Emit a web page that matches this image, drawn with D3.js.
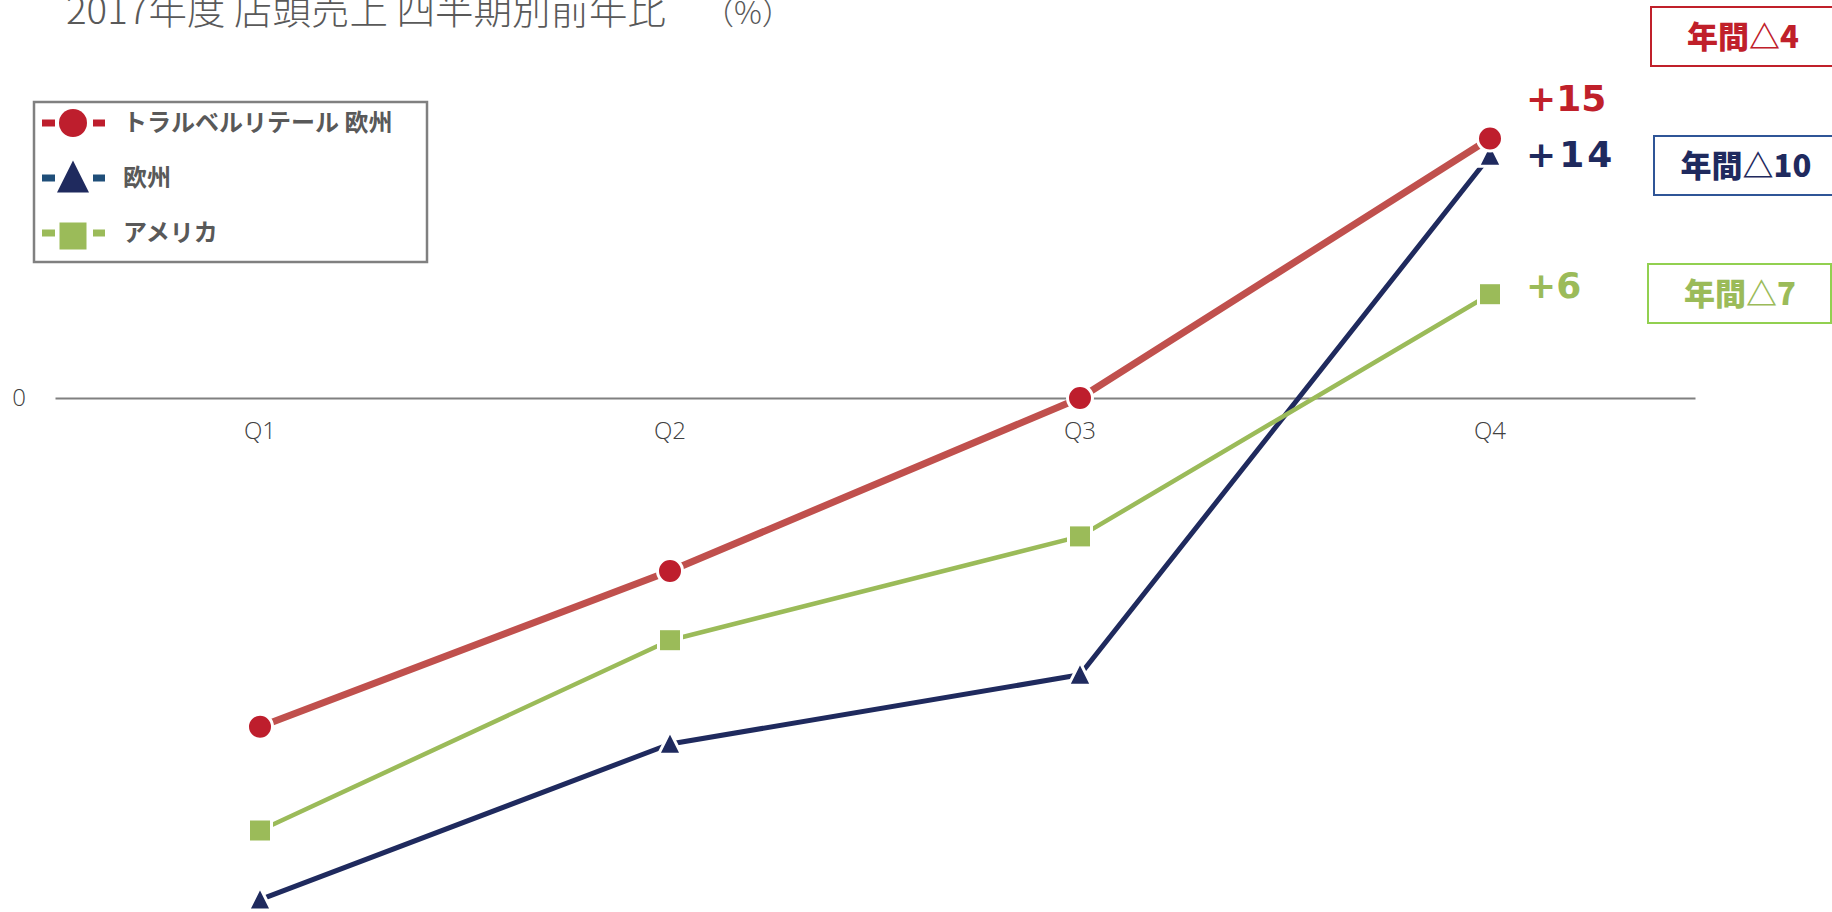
<!DOCTYPE html>
<html><head><meta charset="utf-8">
<script src="https://cdn.jsdelivr.net/npm/d3@7"></script>
<style>
html,body{margin:0;padding:0;background:#fff;overflow:hidden}
svg{display:block}
</style></head>
<body>
<svg id="chart" width="1832" height="912"></svg>
<script>
// ---- data ----
const quarters = ["Q1", "Q2", "Q3", "Q4"];
const seriesNames = ["トラルベルリテール 欧州", "欧州", "アメリカ"];
const travelRetailEU = [-19, -10, 0, 15];
const europe = [-29, -20, -16, 14];
const america = [-25, -14, -8, 6];
const endLabels = ["+15", "+14", "+6"];
const annualLabels = ["年間△4", "年間△10", "年間△7"];
const yTicks = [0];
const titleText = "2017年度 店頭売上 四半期別前年比";
const unitText = "（%）";

// ---- styles ----
const styles = [
  {name: seriesNames[0], values: travelRetailEU, line: "#C0504D", lineW: 7, marker: "#BE1E2D", legendDash: "#BE1E2D", shape: "circle",
   label: endLabels[0], labelColor: "#C0202A", labelDy: -28, labelLS: 0, box: annualLabels[0], boxStroke: "#C0202A", boxY: 7, boxX: 1651, boxW: 192, textColor: "#C0202A"},
  {name: seriesNames[1], values: europe, line: "#1F2A5E", lineW: 5, marker: "#1F2A5E", legendDash: "#1F4E79", shape: "triangle",
   label: endLabels[1], labelColor: "#1F2A5E", labelDy: 11, labelLS: 3, box: annualLabels[1], boxStroke: "#2F5597", boxY: 136, boxX: 1654, boxW: 192, textColor: "#1F2A5E"},
  {name: seriesNames[2], values: america, line: "#9BBB59", lineW: 4.5, marker: "#9BBB59", legendDash: "#9BBB59", shape: "square",
   label: endLabels[2], labelColor: "#9BBB59", labelDy: 4, labelLS: 0, box: annualLabels[2], boxStroke: "#92D050", boxY: 264, boxX: 1648, boxW: 183, textColor: "#9BBB59"}
];

const svg = d3.select("#chart");
const x = d3.scaleBand().domain(quarters).range([55, 1695]).padding(0);
const xc = q => x(q) + x.bandwidth() / 2;
const y = d3.scaleLinear().domain([-30, 20]).range([917, 52]);

// title
svg.append("text").attr("x", 66).attr("y", 24)
  .attr("font-family", "'Noto Sans CJK JP', sans-serif").attr("font-weight", 300)
  .attr("font-size", 38.5).attr("fill", "#595959").text(titleText);
svg.append("text").attr("x", 703).attr("y", 24)
  .attr("font-family", "'Noto Sans CJK JP', sans-serif").attr("font-weight", 300)
  .attr("font-size", 31).attr("fill", "#595959").text(unitText);

// x axis at zero
const xAxis = d3.axisBottom(x).tickSize(0).tickSizeOuter(0).tickPadding(24);
const gx = svg.append("g").attr("transform", `translate(0,${y(0)})`).call(xAxis);
gx.select(".domain").attr("stroke", "#808080").attr("stroke-width", 2);
gx.selectAll("text").attr("font-family", "'Open Sans', 'Lato', sans-serif").attr("font-weight", 300)
  .attr("font-size", 24).attr("fill", "#404040");

// y axis (only zero label)
const yAxis = d3.axisLeft(y).tickValues(yTicks).tickSize(0).tickPadding(29).tickFormat(d3.format("d"));
const gy = svg.append("g").attr("transform", `translate(55,0)`).call(yAxis);
gy.select(".domain").remove();
gy.selectAll("text").attr("font-family", "'Open Sans', 'Lato', sans-serif").attr("font-weight", 300)
  .attr("font-size", 24).attr("fill", "#404040");

// symbol helper
function drawMarker(g, shape, cx, cy, size, fill, stroke, sw) {
  if (shape === "circle") {
    g.append("circle").attr("cx", cx).attr("cy", cy).attr("r", size / 2)
      .attr("fill", fill).attr("stroke", stroke).attr("stroke-width", sw);
  } else if (shape === "square") {
    g.append("rect").attr("x", cx - size / 2).attr("y", cy - size / 2).attr("width", size).attr("height", size)
      .attr("fill", fill).attr("stroke", stroke).attr("stroke-width", sw);
  } else {
    const h = size;
    g.append("path").attr("d", `M${cx},${cy - h * 0.55} L${cx + size / 2},${cy + h * 0.45} L${cx - size / 2},${cy + h * 0.45} Z`)
      .attr("fill", fill).attr("stroke", stroke).attr("stroke-width", sw);
  }
}

// series lines, drawn in order: europe, america, travel retail
const order = [1, 2, 0];
const lineGen = d3.line().x((d, i) => xc(quarters[i])).y(d => y(d));
order.forEach(k => {
  const s = styles[k];
  const g = svg.append("g");
  g.append("path").datum(s.values).attr("d", lineGen)
    .attr("fill", "none").attr("stroke", s.line).attr("stroke-width", s.lineW).attr("stroke-linejoin", "round");
  s.values.forEach((v, i) => {
    drawMarker(g, s.shape, xc(quarters[i]), y(v), s.shape === "circle" ? 25 : 23, s.marker, "#fff", 3);
  });
});

// end labels
styles.forEach(s => {
  const last = s.values[s.values.length - 1];
  svg.append("text").attr("x", xc(quarters[3]) + 36).attr("y", y(last) + s.labelDy)
    .attr("font-family", "'DejaVu Sans', Verdana, sans-serif").attr("font-weight", "bold")
    .attr("letter-spacing", s.labelLS)
    .attr("font-size", 36).attr("fill", s.labelColor).text(s.label);
});

// annual boxes
styles.forEach(s => {
  svg.append("rect").attr("x", s.boxX).attr("y", s.boxY).attr("width", s.boxW).attr("height", 59)
    .attr("fill", "#fff").attr("stroke", s.boxStroke).attr("stroke-width", 2);
  svg.append("text").attr("x", s.boxX + 92).attr("y", s.boxY + 30).attr("dy", "0.36em")
    .attr("text-anchor", "middle")
    .attr("font-family", "'Noto Sans CJK JP', sans-serif").attr("font-weight", 900)
    .attr("font-size", 31).attr("fill", s.textColor).text(s.box);
});

// legend
const lg = svg.append("g");
lg.append("rect").attr("x", 34).attr("y", 102).attr("width", 393).attr("height", 160)
  .attr("fill", "#fff").attr("stroke", "#808080").attr("stroke-width", 2.5);
styles.forEach((s, i) => {
  const cy = 123 + i * 55;
  lg.append("line").attr("x1", 42).attr("x2", 55).attr("y1", cy).attr("y2", cy)
    .attr("stroke", s.legendDash).attr("stroke-width", 7);
  lg.append("line").attr("x1", 93).attr("x2", 105).attr("y1", cy).attr("y2", cy)
    .attr("stroke", s.legendDash).attr("stroke-width", 7);
  drawMarker(lg, s.shape, 73, cy + (s.shape === "square" ? 3 : 0), s.shape === "circle" ? 28 : (s.shape === "triangle" ? 32 : 27), s.marker, "none", 0);
  lg.append("text").attr("x", 123).attr("y", cy - 1).attr("dy", "0.36em")
    .attr("font-family", "'Noto Sans CJK JP', sans-serif").attr("font-weight", "bold")
    .attr("font-size", 24).attr("fill", "#595959").text(s.name);
});
</script>
</body></html>
